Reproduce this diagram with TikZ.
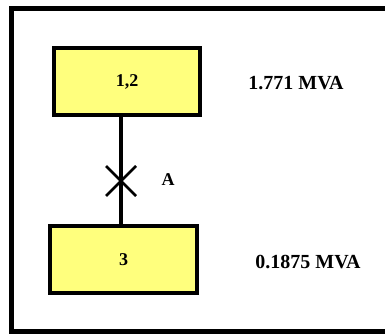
\documentclass[tikz,border=0pt]{standalone}
\usepackage{fontspec}
\setmainfont{Liberation Serif}
\usetikzlibrary{positioning}
\definecolor{busyellow}{RGB}{255, 255, 125}

\tikzset{
  bus/.style={draw=black, fill=busyellow, line width=2.85pt, minimum width=3.65cm,
              minimum height=1.675cm, inner sep=0pt,
              font=\fontsize{12.8pt}{14pt}\selectfont\bfseries},
  rating/.style={font=\fontsize{14.2pt}{16pt}\selectfont\bfseries, inner sep=0pt}
}

\begin{document}
\begin{tikzpicture}[x=0.025cm, y=-0.025cm]

  \clip (0, 0) rectangle (385, 334);
  \fill[white] (0, 0) rectangle (385, 334);

  % frame, open to the right
  \draw[line width=3.56pt] (11.5, 8.5) rectangle (400, 331.5);

  \node[bus] (bus12) at (127, 81.5) {1,2};
  \node[bus] (bus3) at (123.5, 259.5) {3};

  \coordinate (breaker) at (121, 181);
  \draw[line width=2.6pt] (bus12.south -| breaker) -- (bus3.north -| breaker);

  % breaker A
  \draw[line width=1.8pt] ([shift={(-15, -15)}]breaker) -- ([shift={(15, 15)}]breaker);
  \draw[line width=1.8pt] ([shift={(15, -15)}]breaker) -- ([shift={(-15, 15)}]breaker);
  \node[rating, font=\fontsize{12.8pt}{14pt}\selectfont\bfseries] (labelA) at (168, 180) {A};

  \node[rating] (mva12) at (296, 83) {1.771 MVA};
  \node[rating] (mva3) at (308, 262) {0.1875 MVA};

\end{tikzpicture}
\end{document}
